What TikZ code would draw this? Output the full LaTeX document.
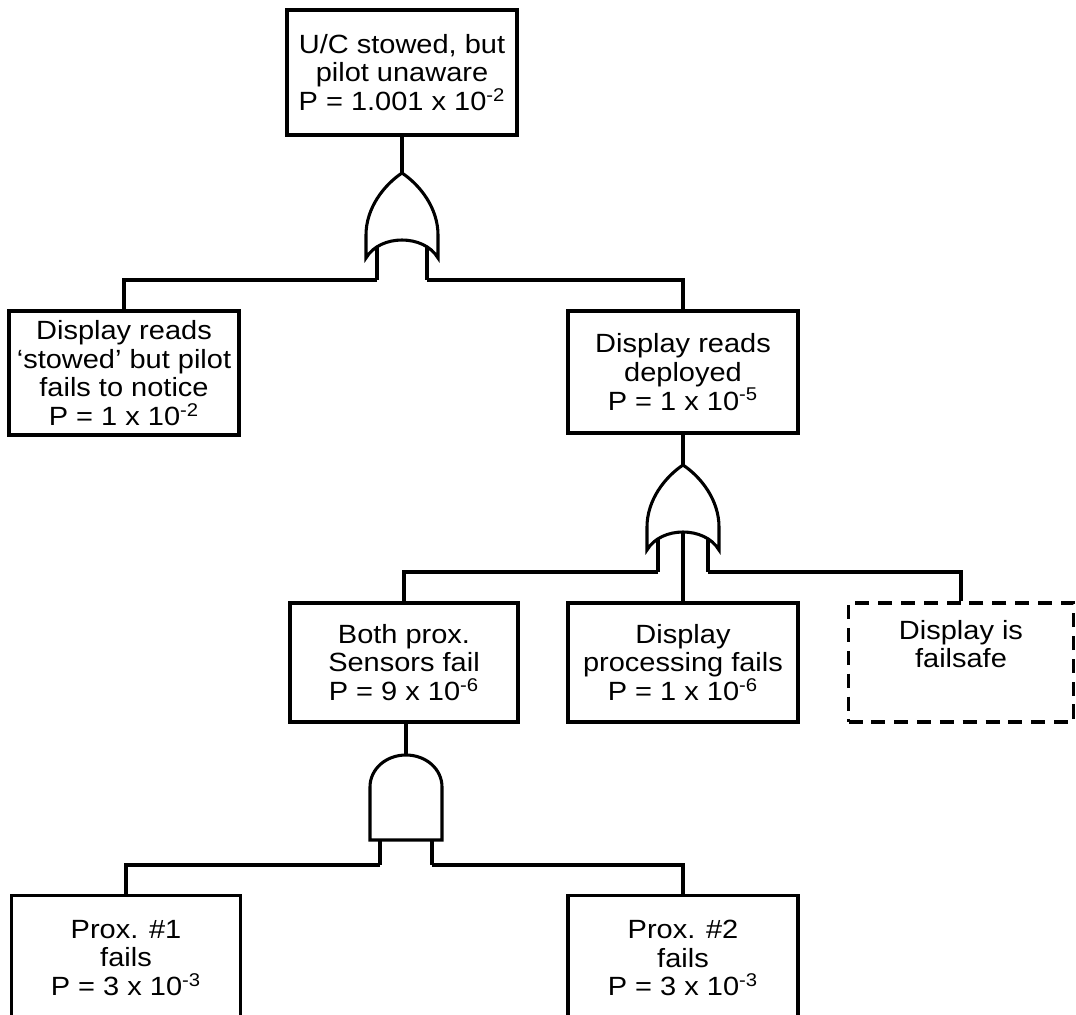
\documentclass[tikz,border=0pt]{standalone}
\usepackage{fontspec}
\setmainfont{Liberation Sans}[FakeStretch=1.1]
\tikzset{
  orgate/.pic={
    \draw (-25,70) -- (-25,107);
    \draw (25,70) -- (25,107);
    \draw[fill=white] (0,0) .. controls (18,12) and (36,35) .. (36,62) -- (36,85)
      .. controls (22,61) and (-22,61) .. (-36,85) -- (-36,62)
      .. controls (-36,35) and (-18,12) .. (0,0) -- cycle;
    \coordinate (-out) at (0,0);
    \coordinate (-mid) at (0,67);
    \coordinate (-inl) at (-25,107);
    \coordinate (-inr) at (25,107);
  },
  andgate/.pic={
    \draw (-26,85) -- (-26,110);
    \draw (26,85) -- (26,110);
    \draw[fill=white] (-36,85) -- (-36,32) .. controls (-36,14) and (-20,0) .. (0,0)
      .. controls (20,0) and (36,14) .. (36,32) -- (36,85) -- cycle;
    \coordinate (-out) at (0,0);
    \coordinate (-inl) at (-26,110);
    \coordinate (-inr) at (26,110);
  }
}
\begin{document}
\begin{tikzpicture}[x=0.02cm,y=-0.02cm,line width=1.75pt,
  event/.style={draw,rectangle,align=center,inner sep=0pt,
    minimum width=4.6cm,minimum height=2.44cm,
    font=\fontsize{15}{16.3}\selectfont},
  undev/.style={event,dash pattern=on 8pt off 5pt}]
  \useasboundingbox (0,0) rectangle (1076,1015);
  \clip (0,0) rectangle (1076,1015);

  \node[event,minimum height=2.5cm] (top) at (402,72.5)
    {U/C stowed, but\\pilot unaware\\P = 1.001 x 10\textsuperscript{-2}};
  \node[event,minimum height=2.48cm] (stowed) at (124,373)
    {Display reads\\‘stowed’ but pilot\\fails to notice\\P = 1 x 10\textsuperscript{-2}};
  \node[event] (deployed) at (683,372)
    {Display reads\\deployed\\P = 1 x 10\textsuperscript{-5}};
  \node[event,minimum width=4.56cm,minimum height=2.38cm] (both) at (404,662.5)
    {Both prox.\\Sensors fail\\P = 9 x 10\textsuperscript{-6}};
  \node[event,minimum height=2.38cm] (proc) at (683,662.5)
    {Display\\processing fails\\P = 1 x 10\textsuperscript{-6}};
  \node[undev,minimum width=4.5cm,minimum height=2.38cm] (safe) at (961,662.5)
    {Display is\\failsafe\\\strut};
  \node[event,minimum width=4.58cm,minimum height=2.5cm] (prox1) at (126,958)
    {Prox. \#1\\fails\\P = 3 x 10\textsuperscript{-3}};
  \node[event,minimum height=2.5cm] (prox2) at (683,958)
    {Prox. \#2\\fails\\P = 3 x 10\textsuperscript{-3}};

  \pic (g1) at (402,173) {orgate};
  \pic (g2) at (683,465) {orgate};
  \pic (g3) at (406,755) {andgate};

  \draw (top.south) -- (g1-out);
  \draw (g1-inl) -| (stowed.north);
  \draw (g1-inr) -| (deployed.north);
  \draw (deployed.south) -- (g2-out);
  \draw (g2-inl) -| (both.north);
  \draw (g2-mid) -- (proc.north);
  \draw (g2-inr) -| (safe.north);
  \draw (both.south -| g3-out) -- (g3-out);
  \draw (g3-inl) -| (prox1.north);
  \draw (g3-inr) -| (prox2.north);
\end{tikzpicture}
\end{document}
